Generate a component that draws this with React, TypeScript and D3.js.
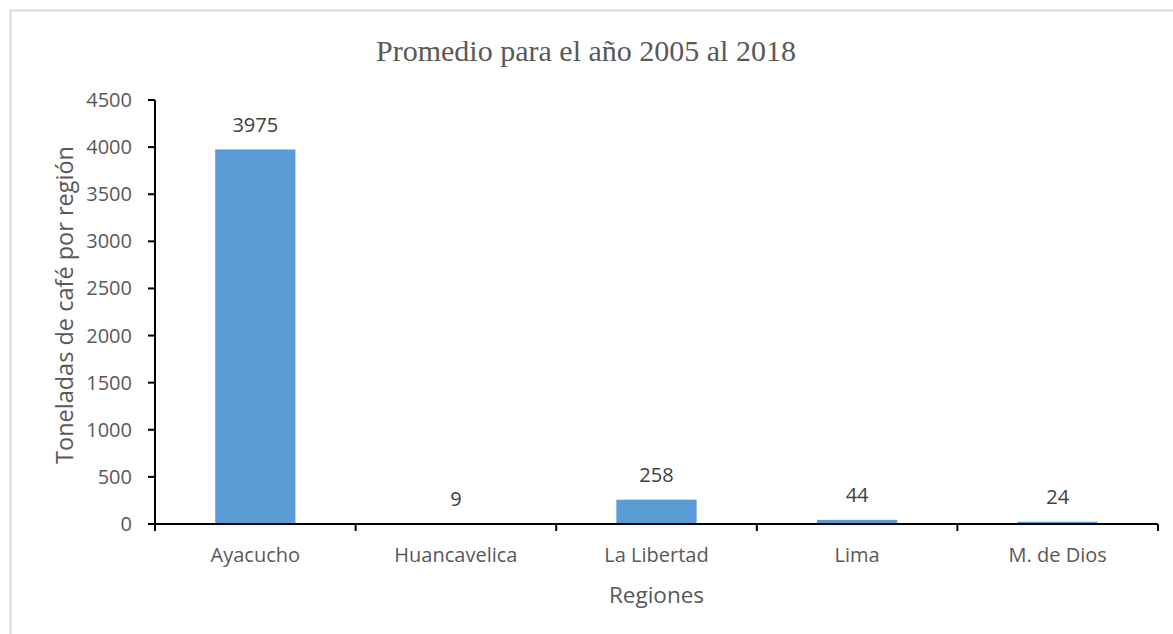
import React from 'react';
import * as d3 from 'd3';

const regiones = ['Ayacucho', 'Huancavelica', 'La Libertad', 'Lima', 'M. de Dios'];
const toneladas = [3975, 9, 258, 44, 24];
const yTicks = [0, 500, 1000, 1500, 2000, 2500, 3000, 3500, 4000, 4500];

const title = 'Promedio para el año 2005 al 2018';
const xTitle = 'Regiones';
const yTitle = 'Toneladas de café por región';

const W = 1173;
const H = 634;
const margin = { top: 100, right: 15, bottom: 110, left: 155 };
const sans = '"Open Sans", "Noto Sans", sans-serif';

const App = () => {
  const x = d3.scaleBand<string>()
    .domain(regiones)
    .range([margin.left, W - margin.right])
    .paddingInner(0.6)
    .paddingOuter(0.3);

  const y = d3.scaleLinear()
    .domain([0, 4500])
    .range([H - margin.bottom, margin.top]);

  const y0 = y(0);
  const step = x.step();
  // category boundaries for tick marks
  const boundaries = d3.range(regiones.length + 1).map(i => margin.left + i * step);

  return (
    <svg width={W} height={H} style={{ position: 'absolute', left: 0, top: 0, background: '#fff' }}>
      <rect x={10.5} y={10.5} width={1200} height={700} fill="#fff" stroke="#d9d9d9" strokeWidth={2} />

      <text x={586} y={61} textAnchor="middle" fontFamily='"Liberation Serif", "Times New Roman", serif'
        fontSize={30} fill="#595959">{title}</text>

      {/* bars */}
      {regiones.map((r, i) => (
        <rect key={r} x={x(r)} y={y(toneladas[i])} width={x.bandwidth()}
          height={y0 - y(toneladas[i])} fill="#5b9bd5" />
      ))}

      {/* value labels */}
      {regiones.map((r, i) => (
        <text key={r} x={(x(r) ?? 0) + x.bandwidth() / 2} y={y(toneladas[i]) - 17.5}
          textAnchor="middle" fontFamily={sans} fontSize={20} fill="#404040">{toneladas[i]}</text>
      ))}

      {/* y axis */}
      <line x1={margin.left} x2={margin.left} y1={y(4500)} y2={y0} stroke="#000" strokeWidth={2} />
      {yTicks.map(t => (
        <g key={t}>
          <line x1={margin.left - 7} x2={margin.left} y1={y(t)} y2={y(t)} stroke="#000" strokeWidth={2} />
          <text x={132} y={y(t)} dy="0.35em" textAnchor="end" fontFamily={sans} fontSize={20} fill="#595959">{t}</text>
        </g>
      ))}

      {/* x axis */}
      <line x1={margin.left - 7} x2={W - margin.right} y1={y0} y2={y0} stroke="#000" strokeWidth={2} />
      {boundaries.map((bx, i) => (
        <line key={i} x1={bx} x2={bx} y1={y0} y2={y0 + 7} stroke="#000" strokeWidth={2} />
      ))}
      {regiones.map(r => (
        <text key={r} x={(x(r) ?? 0) + x.bandwidth() / 2} y={562} textAnchor="middle"
          fontFamily={sans} fontSize={20} fill="#595959">{r}</text>
      ))}

      <text x={(margin.left + W - margin.right) / 2} y={603} textAnchor="middle"
        fontFamily={sans} fontSize={22.5} fill="#595959">{xTitle}</text>

      <text transform={`translate(73,305) rotate(-90)`} textAnchor="middle"
        fontFamily={sans} fontSize={23.5} fill="#595959">{yTitle}</text>
    </svg>
  );
};

export default App;
